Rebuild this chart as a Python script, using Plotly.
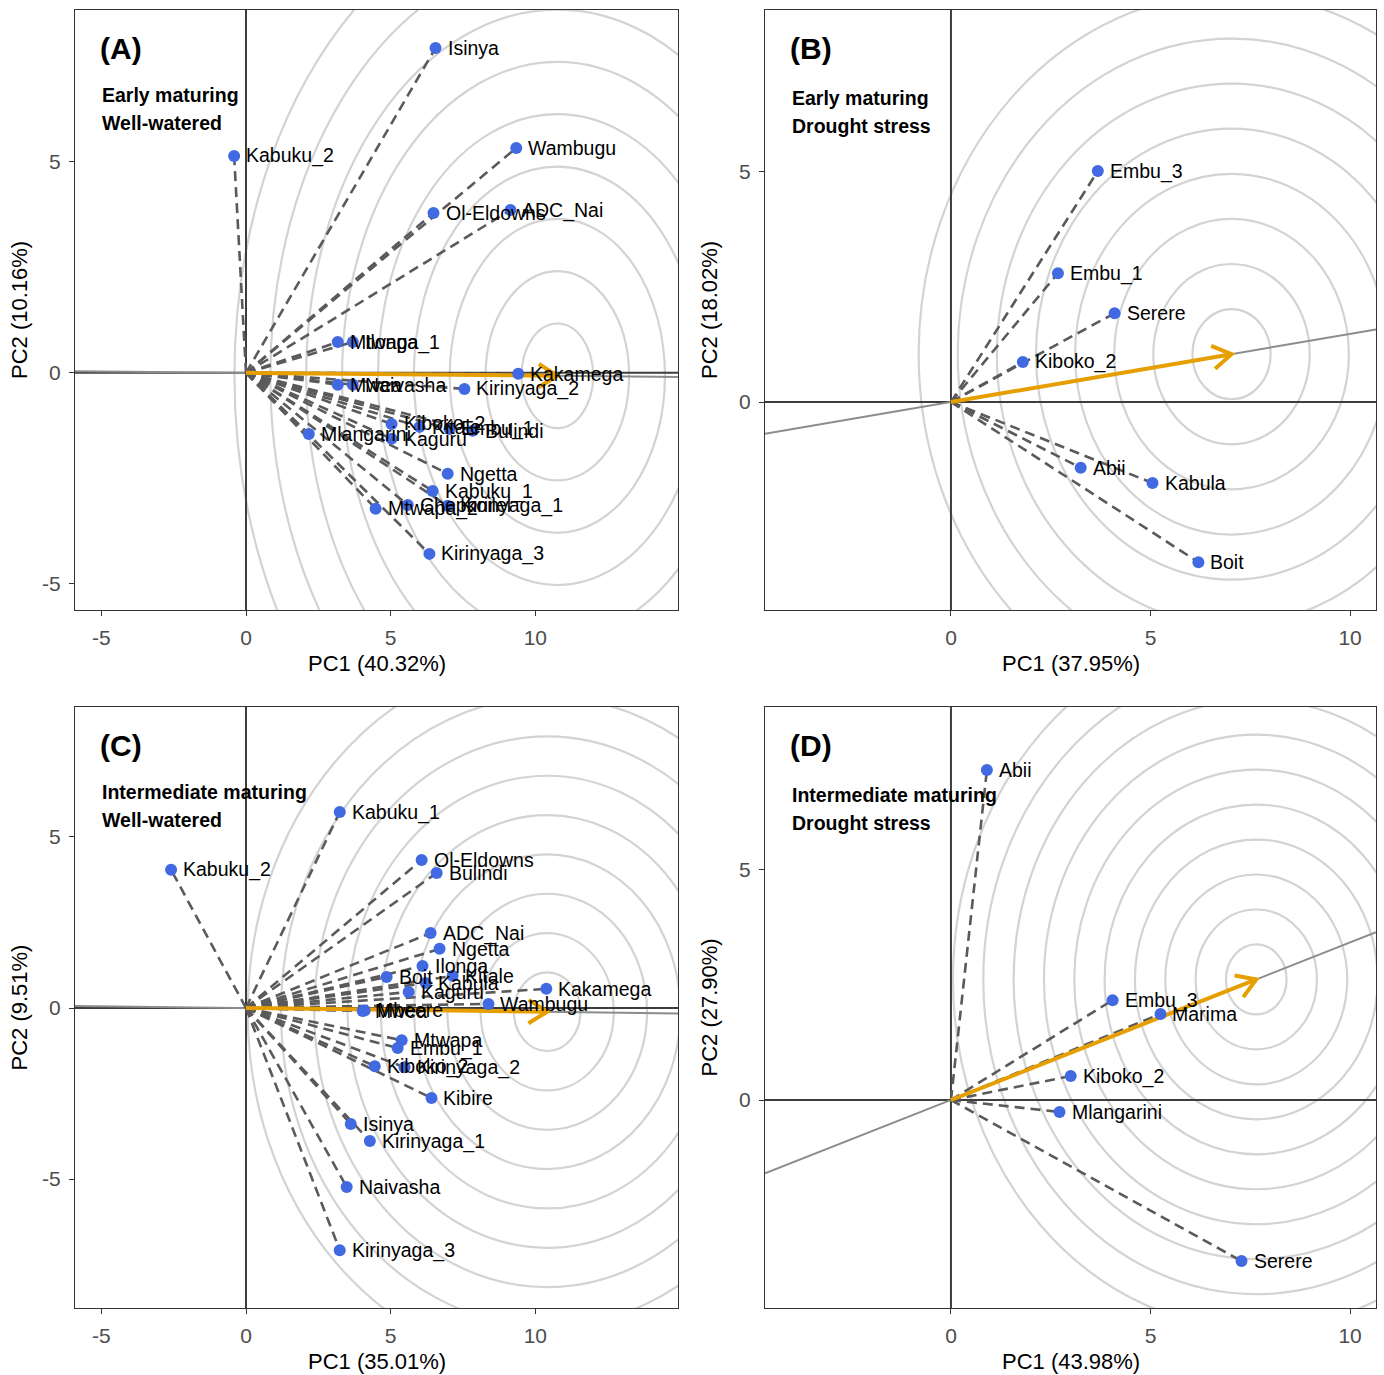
import math
import plotly.graph_objects as go

W, H = 1384, 1375

# ---------------- Panel A : Early maturing, well-watered ----------------
a_names = ["Isinya", "Kabuku_2", "Wambugu", "Ol-Eldowns", "ADC_Nai", "Mtwapa_1", "Ilonga",
           "Kakamega", "Mwea", "Naivasha", "Kirinyaga_2", "Kiboko_2", "Kitale", "Embu_1",
           "Bulindi", "Mlangarini", "Kaguru", "Ngetta", "Kabuku_1", "Chepkoilel",
           "Kirinyaga_1", "Mtwapa_2", "Kirinyaga_3"]
a_pc1 = [6.55, -0.41, 9.34, 6.48, 9.14, 3.17, 3.69, 9.41, 3.17, 3.69, 7.55, 5.03, 6.0, 7.03,
         7.83, 2.17, 5.03, 6.97, 6.45, 5.59, 6.97, 4.48, 6.34]
a_pc2 = [7.70, 5.14, 5.33, 3.79, 3.86, 0.73, 0.73, -0.02, -0.28, -0.28, -0.38, -1.21, -1.28,
         -1.33, -1.37, -1.45, -1.56, -2.39, -2.80, -3.13, -3.15, -3.22, -4.29]
a_tip = [10.76, -0.07]
a_ring_step = 1.24
a_ring_count = 9
a_xtitle = "PC1 (40.32%)"
a_ytitle = "PC2 (10.16%)"
a_tag = "(A)"
a_desc = ["Early maturing", "Well-watered"]

# ---------------- Panel B : Early maturing, drought stress ----------------
b_names = ["Embu_3", "Embu_1", "Serere", "Kiboko_2", "Abii", "Kabula", "Boit"]
b_pc1 = [3.68, 2.68, 4.10, 1.80, 3.25, 5.05, 6.20]
b_pc2 = [5.02, 2.80, 1.93, 0.87, -1.43, -1.76, -3.48]
b_tip = [7.03, 1.04]
b_ring_step = 0.98
b_ring_count = 8
b_xtitle = "PC1 (37.95%)"
b_ytitle = "PC2 (18.02%)"
b_tag = "(B)"
b_desc = ["Early maturing", "Drought stress"]

# ---------------- Panel C : Intermediate maturing, well-watered ----------------
c_names = ["Kabuku_1", "Kabuku_2", "Ol-Eldowns", "Bulindi", "ADC_Nai", "Ngetta", "Ilonga",
           "Boit", "Kabula", "Kitale", "Kaguru", "Mwea", "Mbeere", "Wambugu", "Kakamega",
           "Mtwapa", "Embu_1", "Kiboko_2", "Kirinyaga_2", "Kibire", "Isinya", "Kirinyaga_1",
           "Naivasha", "Kirinyaga_3"]
c_pc1 = [3.24, -2.59, 6.07, 6.59, 6.38, 6.69, 6.10, 4.86, 6.21, 7.14, 5.62, 4.03, 4.10,
         8.38, 10.38, 5.38, 5.24, 4.45, 5.48, 6.41, 3.62, 4.28, 3.48, 3.24]
c_pc2 = [5.73, 4.04, 4.33, 3.95, 2.19, 1.73, 1.23, 0.91, 0.73, 0.94, 0.47, -0.09, -0.07,
         0.12, 0.56, -0.94, -1.17, -1.70, -1.73, -2.63, -3.39, -3.89, -5.23, -7.08]
c_tip = [10.41, -0.11]
c_ring_step = 1.15
c_ring_count = 9
c_xtitle = "PC1 (35.01%)"
c_ytitle = "PC2 (9.51%)"
c_tag = "(C)"
c_desc = ["Intermediate maturing", "Well-watered"]

# ---------------- Panel D : Intermediate maturing, drought stress ----------------
d_names = ["Abii", "Embu_3", "Marima", "Kiboko_2", "Mlangarini", "Serere"]
d_pc1 = [0.90, 4.05, 5.25, 3.00, 2.72, 7.28]
d_pc2 = [7.17, 2.17, 1.87, 0.52, -0.26, -3.50]
d_tip = [7.65, 2.62]
d_ring_step = 0.76
d_ring_count = 10
d_xtitle = "PC1 (43.98%)"
d_ytitle = "PC2 (27.90%)"
d_tag = "(D)"
d_desc = ["Intermediate maturing", "Drought stress"]

# ---------------- layout geometry (pixels) ----------------
panels = [
    dict(names=a_names, x=a_pc1, y=a_pc2, tip=a_tip, step=a_ring_step, n=a_ring_count,
         xt=a_xtitle, yt=a_ytitle, tag=a_tag, desc=a_desc,
         box=(75, 10, 678, 610), xr=(-5.91, 14.93), yr=(-5.62, 8.60),
         xticks=[-5, 0, 5, 10], yticks=[-5, 0, 5]),
    dict(names=b_names, x=b_pc1, y=b_pc2, tip=b_tip, step=b_ring_step, n=b_ring_count,
         xt=b_xtitle, yt=b_ytitle, tag=b_tag, desc=b_desc,
         box=(765, 10, 1376, 610), xr=(-4.66, 10.65), yr=(-4.52, 8.52),
         xticks=[0, 5, 10], yticks=[0, 5]),
    dict(names=c_names, x=c_pc1, y=c_pc2, tip=c_tip, step=c_ring_step, n=c_ring_count,
         xt=c_xtitle, yt=c_ytitle, tag=c_tag, desc=c_desc,
         box=(75, 707, 678, 1308), xr=(-5.91, 14.93), yr=(-8.77, 8.80),
         xticks=[-5, 0, 5, 10], yticks=[-5, 0, 5]),
    dict(names=d_names, x=d_pc1, y=d_pc2, tip=d_tip, step=d_ring_step, n=d_ring_count,
         xt=d_xtitle, yt=d_ytitle, tag=d_tag, desc=d_desc,
         box=(765, 707, 1376, 1308), xr=(-4.66, 10.65), yr=(-4.52, 8.54),
         xticks=[0, 5, 10], yticks=[0, 5]),
]

FONT = "Liberation Sans, Arial, sans-serif"
ORANGE = "#E69F00"
BLUE = "#4169E1"

fig = go.Figure()
shapes = []
annotations = []
layout_axes = {}

for i, p in enumerate(panels, start=1):
    sfx = "" if i == 1 else str(i)
    xa, ya = "x" + sfx, "y" + sfx
    x0p, y0p, x1p, y1p = p["box"]
    xr, yr = p["xr"], p["yr"]
    sx = (x1p - x0p) / (xr[1] - xr[0])
    sy = (y1p - y0p) / (yr[1] - yr[0])
    tx, ty = p["tip"]

    common = dict(showgrid=False, zeroline=False, showline=True, mirror=True,
                  linecolor="#333333", linewidth=1.3, ticks="outside", ticklen=5,
                  tickcolor="#333333", tickwidth=1.3, ticklabelstandoff=4,
                  tickfont=dict(family=FONT, size=21, color="#4d4d4d"))
    layout_axes["xaxis" + sfx] = dict(
        domain=[x0p / W, x1p / W], range=list(xr), anchor=ya,
        tickvals=p["xticks"], ticktext=[str(v) for v in p["xticks"]], **common)
    layout_axes["yaxis" + sfx] = dict(
        domain=[1 - y1p / H, 1 - y0p / H], range=list(yr), anchor=xa,
        tickvals=p["yticks"], ticktext=[str(v) for v in p["yticks"]], **common)

    # concentric circles around the ideal point
    for k in range(1, p["n"] + 1):
        r = p["step"] * k
        shapes.append(dict(type="circle", xref=xa, yref=ya, layer="below",
                           x0=tx - r, x1=tx + r, y0=ty - r, y1=ty + r,
                           line=dict(color="#d3d3d3", width=2.2)))
    # axes through origin
    shapes.append(dict(type="line", xref=xa, yref=ya, layer="below",
                       x0=0, x1=0, y0=yr[0], y1=yr[1],
                       line=dict(color="#3d3d3d", width=2)))
    shapes.append(dict(type="line", xref=xa, yref=ya, layer="below",
                       x0=xr[0], x1=xr[1], y0=0, y1=0,
                       line=dict(color="#3d3d3d", width=2)))
    # average environment axis
    slope = ty / tx
    shapes.append(dict(type="line", xref=xa, yref=ya, layer="below",
                       x0=xr[0], x1=xr[1], y0=slope * xr[0], y1=slope * xr[1],
                       line=dict(color="#8c8c8c", width=2)))

    # dashed lines origin -> genotype
    lx, ly = [], []
    for gx, gy in zip(p["x"], p["y"]):
        lx += [0, gx, None]
        ly += [0, gy, None]
    fig.add_trace(go.Scatter(x=lx, y=ly, mode="lines", xaxis=xa, yaxis=ya,
                             line=dict(color="#5a5a5a", width=2.6, dash="10px,6px"),
                             hoverinfo="skip", showlegend=False))

    # orange arrow with open chevron head (computed in pixel space)
    vx, vy = tx * sx, ty * sy
    L = math.hypot(vx, vy)
    ux, uy = vx / L, vy / L
    arm, ang = 22, math.radians(32)
    hx, hy = [], []
    for sgn in (1, -1):
        c, s = math.cos(sgn * ang), math.sin(sgn * ang)
        bx = -(ux * c - uy * s) * arm
        by = -(ux * s + uy * c) * arm
        hx += [tx + bx / sx]
        hy += [ty + by / sy]
    fig.add_trace(go.Scatter(x=[0, tx], y=[0, ty], mode="lines", xaxis=xa, yaxis=ya,
                             line=dict(color=ORANGE, width=4), hoverinfo="skip",
                             showlegend=False))
    fig.add_trace(go.Scatter(x=[hx[0], tx, hx[1]], y=[hy[0], ty, hy[1]], mode="lines",
                             xaxis=xa, yaxis=ya,
                             line=dict(color=ORANGE, width=4), hoverinfo="skip",
                             showlegend=False))

    # genotype points
    fig.add_trace(go.Scatter(x=p["x"], y=p["y"], mode="markers", xaxis=xa, yaxis=ya,
                             marker=dict(color=BLUE, size=12), text=p["names"],
                             cliponaxis=False, showlegend=False))
    # genotype labels
    for nm, gx, gy in zip(p["names"], p["x"], p["y"]):
        annotations.append(dict(xref=xa, yref=ya, x=gx, y=gy, text=nm, showarrow=False,
                                xanchor="left", yanchor="middle", xshift=10, yshift=0,
                                font=dict(family=FONT, size=19.5, color="black")))

    # panel tag + description
    axd_x, axd_y = xa + " domain", ya + " domain"
    annotations.append(dict(xref=axd_x, yref=axd_y, x=(23 / (x1p - x0p)),
                            y=1 - 38 / (y1p - y0p), xanchor="left", yanchor="middle",
                            text="<b>%s</b>" % p["tag"], showarrow=False,
                            font=dict(family=FONT, size=30, color="black")))
    dy = 85 if i in (1, 3) else 88
    for j, line in enumerate(p["desc"]):
        annotations.append(dict(xref=axd_x, yref=axd_y, x=25 / (x1p - x0p),
                                y=1 - (dy + 28 * j) / (y1p - y0p),
                                xanchor="left", yanchor="middle",
                                text="<b>%s</b>" % line, showarrow=False,
                                font=dict(family=FONT, size=19.5, color="black")))
    # axis titles
    annotations.append(dict(xref="paper", yref="paper", x=(x0p + x1p) / 2 / W,
                            y=1 - (y1p + 53) / H, xanchor="center", yanchor="middle",
                            text=p["xt"], showarrow=False,
                            font=dict(family=FONT, size=22, color="black")))
    annotations.append(dict(xref="paper", yref="paper", x=(x0p - 56) / W,
                            y=1 - (y0p + y1p) / 2 / H, xanchor="center", yanchor="middle",
                            text=p["yt"], showarrow=False, textangle=-90,
                            font=dict(family=FONT, size=22, color="black")))

fig.update_layout(width=W, height=H, margin=dict(l=0, r=0, t=0, b=0),
                  paper_bgcolor="white", plot_bgcolor="white",
                  shapes=shapes, annotations=annotations, showlegend=False,
                  font=dict(family=FONT), **layout_axes)

fig.write_html("out.html", config={"displayModeBar": False},
               post_script="document.body.style.margin='0';")
